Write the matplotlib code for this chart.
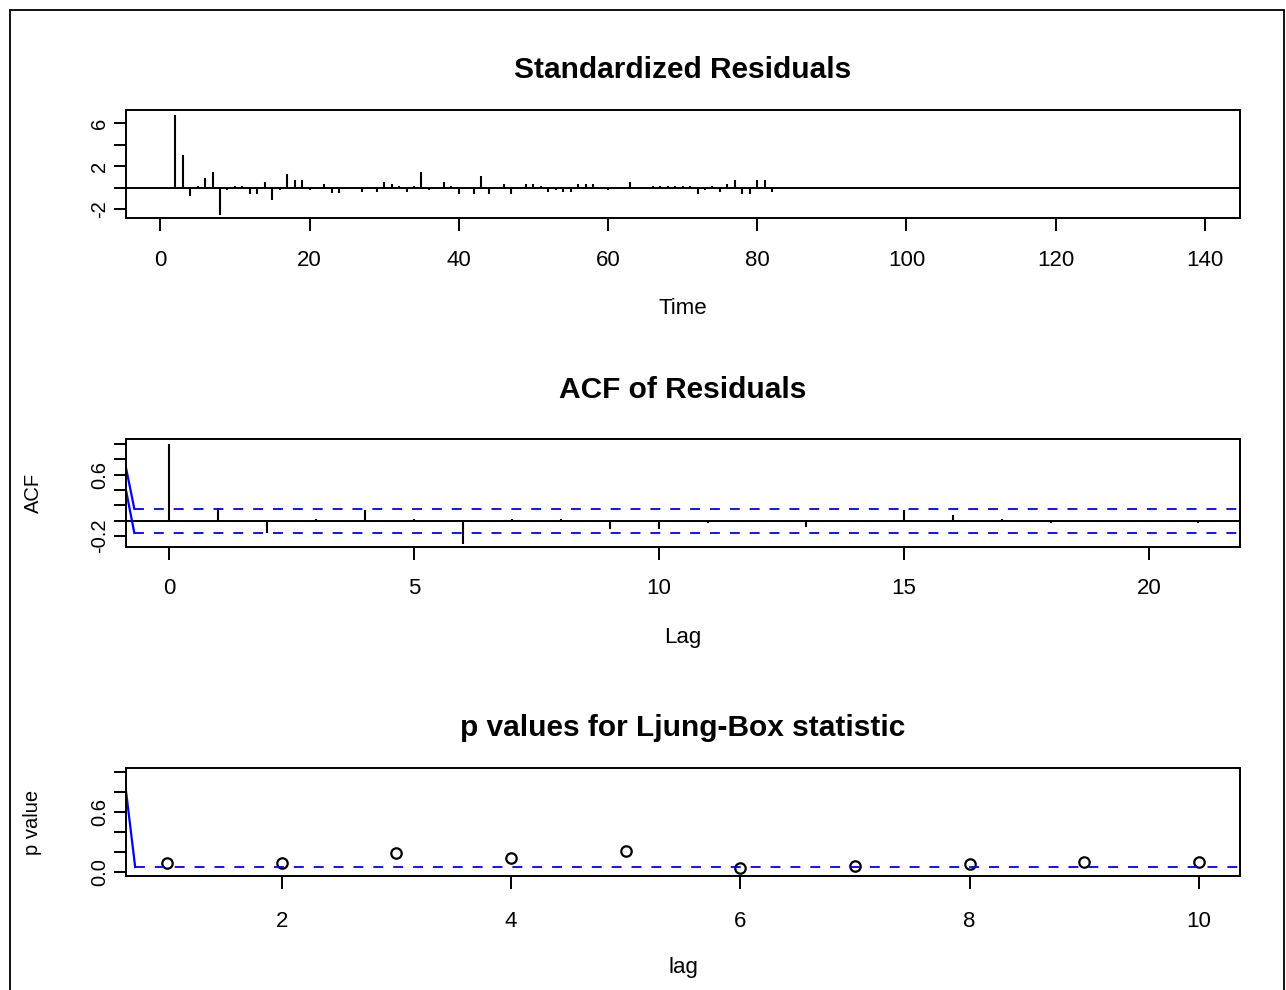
import matplotlib
matplotlib.use("Agg")
import matplotlib.pyplot as plt
from matplotlib.patches import Rectangle

plt.rcParams['font.family'] = ['Liberation Sans', 'DejaVu Sans']

# ---------------- data ----------------
time_index = list(range(1, 141))
std_resid_obs = [0.0, 6.78, 3.03, -0.75, 0.19, 0.90, 1.44, -2.53, -0.22, 0.19,
                 0.19, -0.60, -0.60, 0.56, -1.13, -0.20, 1.28, 0.75, 0.75, -0.25,
                 0.0, 0.34, -0.44, -0.44, 0.0, 0.0, -0.40, 0.0, -0.40, 0.56,
                 0.37, 0.19, -0.40, 0.19, 1.44, -0.22, 0.0, 0.56, 0.19, -0.60,
                 0.0, -0.60, 1.06, -0.60, 0.0, 0.34, -0.60, 0.0, 0.34, 0.34,
                 0.19, -0.40, -0.22, -0.40, -0.40, 0.34, 0.34, 0.34, 0.0, -0.20,
                 0.0, 0.0, 0.56, 0.0, 0.0, 0.19, 0.19, 0.19, 0.19, 0.19,
                 0.19, -0.60, -0.22, 0.19, -0.40, 0.34, 0.75, -0.60, -0.60, 0.75,
                 0.75, -0.40]
std_resid_tail = [0.0] * (len(time_index) - len(std_resid_obs))
std_resid = std_resid_obs + std_resid_tail

acf_lags = list(range(0, 22))
acf_vals = [1.0, 0.17, -0.156, 0.02, 0.14, 0.02, -0.305, 0.025, 0.025, -0.11,
            -0.11, -0.03, 0.0, -0.085, 0.0, 0.14, 0.07, 0.025, -0.03, 0.0,
            0.0, -0.03]
acf_conf = 0.157

lb_lags = list(range(1, 11))
lb_pvals = [0.095, 0.095, 0.19, 0.136, 0.21, 0.037, 0.061, 0.078, 0.098, 0.098]
lb_level = 0.05

titles = ["Standardized Residuals", "ACF of Residuals", "p values for Ljung-Box statistic"]
xlabels = ["Time", "Lag", "lag"]
ylabels = ["", "ACF", "p value"]

# ---------------- figure ----------------
W, H = 1286, 990
fig = plt.figure(figsize=(W / 100, H / 100), dpi=100)
fig.patch.set_facecolor("white")

def rect(x0, y0, x1, y1):
    return [x0 / W, 1 - y1 / H, (x1 - x0) / W, (y1 - y0) / H]

# outer frame
fig.patches.append(Rectangle((10 / W, -0.01), (1284 - 10) / W, 1 - 10 / H + 0.01,
                             transform=fig.transFigure, fill=False,
                             edgecolor="black", linewidth=1.3))

ax1 = fig.add_axes(rect(126, 110, 1240, 218))
ax2 = fig.add_axes(rect(126, 439, 1240, 547))
ax3 = fig.add_axes(rect(126, 768, 1240, 876))

BLUE = (0, 0, 1)
TICK_FS = 16
YTICK_FS = 14.5
TITLE_FS = 21.5

def style(ax, xpad=13.5):
    for s in ax.spines.values():
        s.set_linewidth(1.4)
    ax.tick_params(direction="out", length=9, width=1.4, labelsize=TICK_FS)
    ax.tick_params(axis="x", pad=xpad)
    ax.tick_params(axis="y", pad=3, labelsize=YTICK_FS)

# --- panel 1: standardized residuals ---
ax1.vlines(time_index, 0, std_resid, colors="black", linewidth=1.5)
ax1.axhline(0, color="black", linewidth=1.4)
ax1.set_xlim(-4.6, 144.7)
ax1.set_ylim(-2.81, 7.24)
ax1.set_xticks([0, 20, 40, 60, 80, 100, 120, 140])
ax1.set_yticks([-2, 0, 2, 4, 6])
ax1.set_yticklabels(["-2", "", "2", "", "6"], rotation=90, va="center")
style(ax1, xpad=14)

# --- panel 2: ACF ---
ax2.vlines(acf_lags, 0, acf_vals, colors="black", linewidth=1.5)
ax2.axhline(0, color="black", linewidth=1.4)
x_left = -0.88
x_join = -0.71
ax2.plot([x_left, x_join], [0.69, acf_conf], color=BLUE, linewidth=1.6)
ax2.plot([x_left, x_join], [0.40, -acf_conf], color=BLUE, linewidth=1.6)
ax2.plot([x_join, 21.86], [acf_conf, acf_conf], color=BLUE, linewidth=1.3,
         linestyle=(0, (5.5, 5.5)))
ax2.plot([x_join, 21.86], [-acf_conf, -acf_conf], color=BLUE, linewidth=1.3,
         linestyle=(0, (5.5, 5.5)))
ax2.set_xlim(-0.88, 21.86)
ax2.set_ylim(-0.34, 1.065)
ax2.set_xticks([0, 5, 10, 15, 20])
ax2.set_yticks([-0.2, 0.0, 0.2, 0.4, 0.6, 0.8, 1.0])
ax2.set_yticklabels(["-0.2", "", "", "", "0.6", "", ""], rotation=90, va="center")
style(ax2, xpad=13)

# --- panel 3: Ljung-Box p-values ---
ax3.plot(lb_lags, lb_pvals, linestyle="none", marker="o", markersize=7.5,
         markerfacecolor="white", markeredgecolor="black", markeredgewidth=1.6)
ax3.plot([0.64, 0.72], [0.81, lb_level], color=BLUE, linewidth=1.6)
ax3.plot([0.72, 10.36], [lb_level, lb_level], color=BLUE, linewidth=1.3,
         linestyle=(0, (5.5, 5.5)))
ax3.set_xlim(0.64, 10.36)
ax3.set_ylim(-0.04, 1.04)
ax3.set_xticks([2, 4, 6, 8, 10])
ax3.set_yticks([0.0, 0.2, 0.4, 0.6, 0.8, 1.0])
ax3.set_yticklabels(["0.0", "", "", "0.6", "", ""], rotation=90, va="center")
style(ax3, xpad=16)

# titles and axis labels positioned in pixels
def ftext(x, y, s, **kw):
    fig.text(x / W, 1 - y / H, s, ha="center", va="center", **kw)

ftext(683, 70, titles[0], fontsize=TITLE_FS, fontweight="bold")
ftext(683, 390, titles[1], fontsize=TITLE_FS, fontweight="bold")
ftext(683, 728, titles[2], fontsize=TITLE_FS, fontweight="bold")
ftext(683, 308, xlabels[0], fontsize=TICK_FS)
ftext(683, 637, xlabels[1], fontsize=TICK_FS)
ftext(683, 967, xlabels[2], fontsize=TICK_FS)
ftext(33, 493, ylabels[1], fontsize=YTICK_FS, rotation=90)
ftext(33, 822, ylabels[2], fontsize=YTICK_FS, rotation=90)

fig.savefig("out.png", dpi=100, facecolor="white")
